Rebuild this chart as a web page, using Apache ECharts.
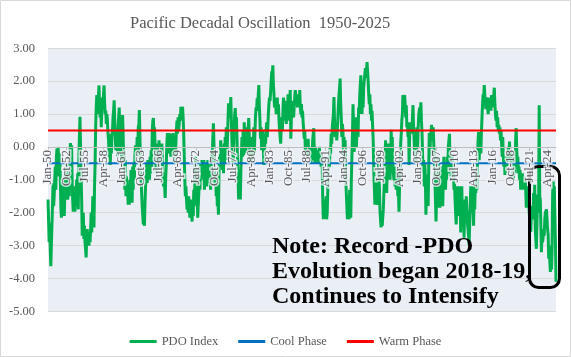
<!DOCTYPE html>
<html>
<head>
<meta charset="utf-8">
<script src="https://cdn.jsdelivr.net/npm/echarts@6/dist/echarts.min.js"></script>
<style>
html,body{margin:0;padding:0;background:#fff;}
#chart{width:571px;height:357px;}
</style>
</head>
<body>
<div id="chart"></div>
<script>
// ---- Data (monthly PDO index) ----
const monthNames = ['Jan','Feb','Mar','Apr','May','Jun','Jul','Aug','Sep','Oct','Nov','Dec'];
const startYear = 1950;

const pdo1950s = [
 -1.6,-2.2,-2.9,-2.3,-3.1,-3.63,-3.0,-2.4,-1.8,-1.1,-1.8,-1.5,
 -1.0,-0.6,-1.3,-0.3,-0.05,-0.6,0.0,-0.5,-0.9,-0.2,-1.0,-1.85,
 -2.15,-1.5,-1.8,-1.0,-1.6,-2.1,-1.4,-0.7,-1.5,-0.5,-1.2,-1.6,
 -1.4,-0.9,-1.5,-0.3,0.12,-0.4,0.05,-1.0,-1.6,-1.97,-1.2,-1.7,
 -1.97,-1.3,-1.8,-1.0,-1.5,-0.8,-1.9,-0.4,0.3,0.92,0.1,-0.8,
 -1.6,-2.7,-2.2,-2.0,-2.8,-2.4,-2.9,-3.1,-3.36,-2.8,-2.5,-2.9,
 -2.6,-3.0,-2.7,-2.9,-2.5,-2.0,-2.6,-2.1,-1.5,-2.2,-2.45,-1.2,
 -0.5,0.6,1.2,1.58,1.0,1.4,1.58,1.87,1.2,0.9,1.3,0.6,
 1.1,1.5,1.3,1.6,1.87,1.3,1.0,1.1,0.7,1.0,0.8,0.4,
 0.2,-0.3,0.4,-0.55,0.0,-0.2,0.3,0.5,0.9,1.1,1.42,0.8
];
const pdo1960s = [
 0.3,-0.1,0.1,0.4,-0.3,0.6,0.9,1.2,0.5,-0.2,0.3,-0.4,
 0.2,0.97,0.4,-0.5,-0.1,-1.3,-0.4,-1.5,-0.9,-1.5,-1.2,-1.76,
 -1.4,-1.76,-1.0,-1.5,-0.7,-1.2,-1.7,-0.6,-1.3,-0.5,-1.0,-0.3,
 0.05,-0.3,-0.2,0.3,-0.3,0.6,0.7,1.12,0.3,-0.6,-0.9,-1.4,
 -1.8,-2.1,-2.36,-1.9,-2.4,-1.7,-1.2,-0.8,-0.5,-1.1,-0.4,-0.9,
 -0.6,-1.0,-0.3,-0.8,-0.1,-0.6,0.5,0.8,0.88,0.4,0.6,0.0,
 -0.2,-0.8,0.1,-0.5,-0.3,-0.7,0.2,-0.4,-0.2,0.05,-0.3,0.1,
 -0.4,-0.9,-1.2,-0.8,-1.2,-1.55,-0.9,-0.5,0.1,0.42,-0.2,0.3,
 0.42,-0.1,0.3,-0.3,0.4,0.1,-0.25,0.42,0.2,-0.5,0.0,-0.3,
 0.1,0.5,0.8,0.4,0.9,0.5,0.7,1.0,0.8,1.22,0.9,1.1
];
const pdo1970s = [
 1.22,0.9,0.4,-0.3,-1.0,-1.5,-1.2,-1.6,-1.9,-1.76,-2.0,-1.5,
 -1.8,-2.15,-1.9,-1.6,-2.0,-2.27,-1.7,-2.1,-1.3,-1.8,-1.0,-0.3,
 -0.8,-1.6,-1.3,-2.15,-2.1,-1.4,-0.9,-1.3,-0.6,-0.4,-0.9,-0.5,
 -0.6,-1.0,-0.4,-1.3,-0.7,-1.1,-0.5,-1.2,-0.9,-0.4,-1.0,-0.7,
 -1.1,-0.6,-1.3,-0.4,-0.8,-0.2,0.3,0.72,0.1,-0.6,-1.2,-0.8,
 -1.5,-1.2,-1.8,-1.6,-2.06,-0.8,-0.3,-0.6,0.2,-0.4,-0.1,-0.7,
 -0.3,-0.8,0.1,-0.5,0.3,-0.2,0.6,-0.4,0.2,0.8,1.33,0.9,
 1.2,1.0,1.52,0.8,0.2,-0.3,-0.55,-0.1,0.6,1.0,1.18,0.5,
 0.9,0.3,-0.4,-1.0,-1.6,-1.3,-0.9,-1.6,-0.7,-0.2,0.3,-0.3,
 0.5,-0.25,0.75,0.1,0.4,-0.2,0.6,0.2,0.0,0.5,0.88,0.3
];
const pdo1980s = [
 -0.3,-0.5,0.2,-0.4,0.3,0.0,-0.3,0.6,-0.2,0.4,0.9,1.2,
 1.1,1.48,1.3,1.6,1.88,1.2,0.8,0.25,0.6,-0.1,0.2,0.5,
 0.0,-0.55,-0.2,0.3,0.1,0.5,0.75,0.3,0.6,1.0,1.3,1.5,
 1.4,1.67,2.0,2.3,2.2,2.48,1.9,1.6,1.2,1.5,1.3,1.0,
 1.2,1.5,1.0,1.3,0.8,0.5,0.3,0.1,0.6,0.9,0.5,1.1,
 1.5,1.2,0.8,1.4,1.0,0.7,1.2,0.9,1.6,1.1,0.8,1.3,
 1.73,0.25,0.8,1.2,1.0,1.4,0.9,1.2,1.5,1.73,1.73,1.3,
 1.5,1.2,1.6,1.4,1.3,1.73,1.2,1.0,1.3,0.9,1.1,0.75,
 0.8,0.25,0.5,-0.1,0.2,-0.25,0.1,-0.2,0.25,-0.3,-0.1,0.0,
 -0.3,-0.5,0.0,-0.4,0.2,0.4,0.57,-0.2,-0.5,0.0,-0.3,-0.5
];
const pdo1990s = [
 -0.2,-0.5,-0.1,-0.4,0.0,-0.5,-0.3,-0.6,-0.2,-0.5,-1.6,-2.2,
 -1.6,-2.2,-1.8,-2.0,-1.5,-2.2,-2.0,-1.3,-0.8,-0.3,-0.6,0.0,
 -0.2,0.4,0.1,0.6,0.6,1.0,1.52,0.8,0.3,0.7,0.5,0.2,
 0.5,0.9,1.3,1.6,1.8,2.08,1.3,0.9,0.3,0.7,0.5,-0.2,
 0.3,-0.5,0.2,-1.0,-1.4,-1.8,-2.2,-1.5,-2.0,-2.2,-1.3,-1.7,
 -2.15,-1.0,-0.3,0.4,1.3,0.5,-0.15,0.6,0.2,0.9,0.0,0.5,
 0.8,0.3,1.2,1.0,1.6,1.9,2.18,1.4,1.0,1.5,1.2,1.8,
 2.0,2.2,2.4,2.1,2.3,2.58,2.3,2.0,1.6,1.3,1.6,1.0,
 1.3,0.8,1.1,0.6,0.2,-0.7,-1.2,-1.76,-1.3,-1.6,-1.0,-1.5,
 -1.76,-1.0,-0.2,-1.2,-1.9,-2.2,-2.45,-2.0,-2.4,-2.45,-1.9,-1.4
];
const pdo2000s = [
 -1.0,-0.5,0.2,-0.4,-1.4,-0.6,-0.2,0.1,-0.9,-0.3,-1.0,-0.5,
 0.52,-0.2,0.3,-0.5,-0.8,-1.0,-0.6,-1.2,-0.8,-1.3,-0.7,-1.0,
 -1.5,-1.4,-1.97,-1.2,-0.6,0.1,0.4,0.8,1.0,1.58,1.2,1.4,
 1.58,1.3,0.9,1.27,0.6,0.75,0.3,0.75,-0.55,0.4,0.75,0.5,
 0.75,0.4,0.9,1.27,0.6,0.2,-0.3,0.4,-0.5,0.0,0.6,-0.2,
 0.5,0.9,1.1,1.2,1.0,1.36,0.8,0.45,-0.2,-0.85,-0.4,-1.2,
 -0.5,-0.9,-2.06,-1.3,-0.85,-1.5,-1.8,-0.6,0.42,-0.3,0.2,0.45,
 0.67,0.2,0.45,0.6,0.1,-0.4,-1.0,-1.6,-2.27,-1.5,-1.0,-1.85,
 -0.3,-1.4,-1.0,-1.85,-0.8,-1.5,-0.6,-1.2,-1.8,-1.0,-0.3,-1.3,
 -0.8,-1.3,-0.5,-1.0,-0.3,-0.8,0.0,0.2,0.4,-0.5,-0.3,-1.0
];
const pdo2010s = [
 -0.5,-0.3,-0.9,-0.6,-1.3,-1.1,-1.6,-2.0,-2.36,-1.8,-1.2,-2.0,
 -1.5,-1.2,-2.1,-1.6,-2.6,-1.8,-1.2,-2.2,-2.4,-1.9,-2.76,-2.0,
 -1.6,-2.2,-1.5,-1.9,-2.3,-2.5,-2.7,-2.97,-2.4,-1.8,-1.2,-1.5,
 -2.0,-1.2,-1.8,-2.4,-1.5,-1.9,-1.2,-1.4,-0.8,-1.3,-0.4,0.2,
 0.45,-0.4,0.1,0.3,-0.2,0.45,0.9,1.3,1.6,1.5,1.88,1.6,
 1.3,1.15,1.5,1.4,1.2,1.0,1.3,1.5,1.2,1.4,1.1,1.58,
 1.3,1.5,1.2,1.6,1.8,1.3,1.0,0.8,1.1,0.6,0.9,0.5,
 0.67,0.4,0.6,0.2,0.5,0.1,-0.3,0.3,-0.3,-0.6,-0.3,-0.85,
 -0.5,-0.8,-0.3,-0.6,-0.2,0.0,-0.4,0.16,-0.3,-0.1,-0.5,-0.2,
 -0.3,-0.6,-1.0,-0.5,-0.3,-0.8,0.2,0.57,-0.1,-0.5,-0.3,-0.8
];
const pdo2020s = [
 -0.6,-1.0,-0.7,-1.3,-0.9,-1.2,-0.8,-1.1,-1.3,-0.9,-1.2,-1.0,
 -1.3,-1.85,-1.4,-1.6,-1.2,-1.5,-1.9,-2.2,-2.4,-2.58,-2.1,-1.8,
 -1.8,-2.2,-1.4,-2.0,-1.15,-2.5,-2.8,-3.1,-2.4,-1.45,-2.0,-1.8,
 1.27,-1.5,-1.6,-2.4,-3.2,-2.6,-2.9,-2.77,-2.5,-2.7,-2.2,-2.0,
 -2.0,-1.9,-2.2,-2.5,-2.67,-3.4,-3.0,-3.5,-3.8,-3.6,-3.73,-3.1,
 -1.4,-1.05,-1.6,-1.2,-1.15,-2.9,-4.1
];

const coolPhaseLevel = -0.5;
const warmPhaseLevel = 0.5;

const yTicks = { min: -5, max: 3, step: 1 };
const labelEvery = 33; // one category label every 33 months

// ---- Build ----
const pdoValues = [].concat(pdo1950s, pdo1960s, pdo1970s, pdo1980s, pdo1990s, pdo2000s, pdo2010s, pdo2020s);
const categories = pdoValues.map((_, i) => {
  const y = startYear + Math.floor(i / 12);
  return monthNames[i % 12] + '-' + String(y % 100).padStart(2, '0');
});
const firstCat = categories[0];
const lastCat = categories[categories.length - 1];

const serif = '"Liberation Serif", "Times New Roman", serif';
const grey = '#595959';

const gridTop = 48.3, gridBottom = 45.7, chartH = 357;
const plotH = chartH - gridTop - gridBottom;
// distance from bottom grid edge up to the zero line
const zeroOffset = plotH * (0 - yTicks.min) / (yTicks.max - yTicks.min);

const chart = echarts.init(document.getElementById('chart'), null, { renderer: 'canvas' });
chart.setOption({
  animation: false,
  backgroundColor: '#ffffff',
  title: {
    text: 'Pacific Decadal Oscillation  1950-2025',
    left: 125, top: 10,
    textStyle: { fontFamily: serif, fontSize: 16.5, fontWeight: 'normal', color: grey }
  },
  grid: { left: 48, right: 15, top: gridTop, bottom: gridBottom, show: true, backgroundColor: '#eaeef5', borderWidth: 0 },
  legend: {
    data: ['PDO Index', 'Cool Phase', 'Warm Phase'],
    left: 'center', top: 330,
    icon: 'rect', itemWidth: 27, itemHeight: 3, itemGap: 20,
    textStyle: { fontFamily: serif, fontSize: 12.5, color: grey }
  },
  xAxis: {
    type: 'category',
    data: categories,
    boundaryGap: false,
    position: 'bottom',
    offset: -zeroOffset,
    zlevel: 1,
    axisLine: { onZero: false, lineStyle: { color: '#bfbfbf', width: 1 } },
    axisTick: { show: true, interval: labelEvery - 1, length: 4, lineStyle: { color: '#bfbfbf' } },
    axisLabel: { interval: labelEvery - 1, rotate: 90, margin: 3, fontFamily: serif, fontSize: 13, color: grey,
                 textBorderColor: 'rgba(240,243,249,0.8)', textBorderWidth: 3 },
    splitLine: { show: false }
  },
  yAxis: {
    type: 'value',
    min: yTicks.min, max: yTicks.max, interval: yTicks.step,
    axisLine: { show: false }, axisTick: { show: false },
    axisLabel: { formatter: v => v.toFixed(2), fontFamily: serif, fontSize: 12.5, color: grey, margin: 13 },
    splitLine: { lineStyle: { color: '#d9d9d9', width: 1 } }
  },
  series: [
    { name: 'PDO Index', type: 'line', data: pdoValues, showSymbol: false, symbol: 'none',
      lineStyle: { color: '#00B050', width: 3 }, itemStyle: { color: '#00B050' } },
    { name: 'Cool Phase', type: 'line', data: [[firstCat, coolPhaseLevel], [lastCat, coolPhaseLevel]], showSymbol: false, symbol: 'none',
      lineStyle: { color: '#0070C0', width: 2 }, itemStyle: { color: '#0070C0' } },
    { name: 'Warm Phase', type: 'line', data: [[firstCat, warmPhaseLevel], [lastCat, warmPhaseLevel]], showSymbol: false, symbol: 'none',
      lineStyle: { color: '#FF0000', width: 2 }, itemStyle: { color: '#FF0000' } }
  ],
  graphic: [
    { type: 'rect', z: 100, silent: true,
      shape: { x: 0.5, y: 0.5, width: 570, height: 356 },
      style: { fill: 'none', stroke: '#d9d9d9', lineWidth: 1 } },
    { type: 'text', z: 100, x: 272, y: 234,
      style: { text: 'Note: Record -PDO\nEvolution began 2018-19,\nContinues to Intensify',
               fontFamily: serif, fontSize: 24, fontWeight: 'bold', lineHeight: 25, fill: '#000' } },
    { type: 'rect', z: 100,
      shape: { x: 529.5, y: 166.5, width: 30, height: 121, r: 9 },
      style: { fill: 'none', stroke: '#000', lineWidth: 3 } }
  ]
});
</script>
</body>
</html>
